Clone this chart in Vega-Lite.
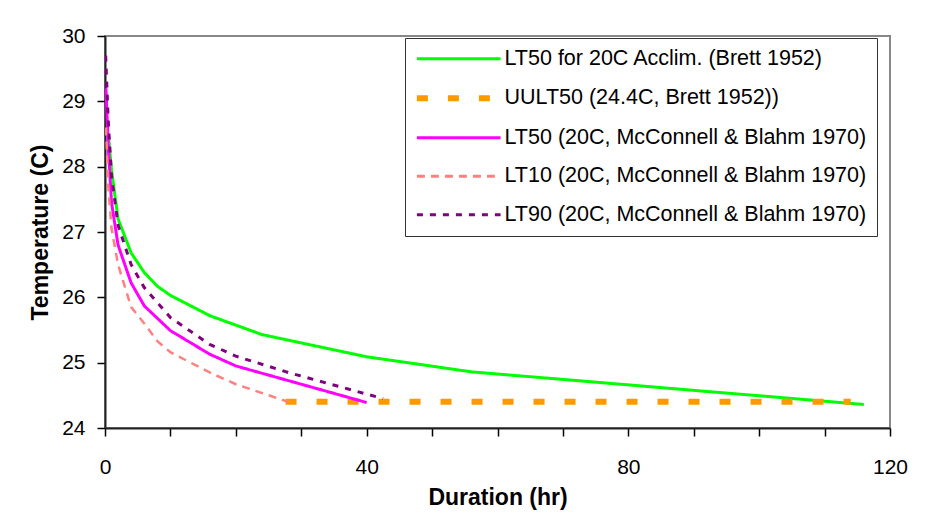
{
  "$schema": "https://vega.github.io/schema/vega-lite/v6.json",
  "width": 785,
  "height": 392,
  "autosize": "none",
  "padding": {"left": 105, "top": 36, "right": 40, "bottom": 101},
  "background": "white",
  "config": {
    "view": {"stroke": "#888888", "strokeWidth": 2},
    "font": "Liberation Sans"
  },
  "data": {
    "values": [
      {"s": "LT50 for 20C Acclim. (Brett 1952)", "d": 0.5, "t": 28.5},
      {"s": "LT50 for 20C Acclim. (Brett 1952)", "d": 1, "t": 27.95},
      {"s": "LT50 for 20C Acclim. (Brett 1952)", "d": 2, "t": 27.2},
      {"s": "LT50 for 20C Acclim. (Brett 1952)", "d": 4, "t": 26.68},
      {"s": "LT50 for 20C Acclim. (Brett 1952)", "d": 6, "t": 26.38},
      {"s": "LT50 for 20C Acclim. (Brett 1952)", "d": 8, "t": 26.17},
      {"s": "LT50 for 20C Acclim. (Brett 1952)", "d": 10, "t": 26.03},
      {"s": "LT50 for 20C Acclim. (Brett 1952)", "d": 16, "t": 25.72},
      {"s": "LT50 for 20C Acclim. (Brett 1952)", "d": 24, "t": 25.43},
      {"s": "LT50 for 20C Acclim. (Brett 1952)", "d": 40, "t": 25.09},
      {"s": "LT50 for 20C Acclim. (Brett 1952)", "d": 56, "t": 24.86},
      {"s": "LT50 for 20C Acclim. (Brett 1952)", "d": 116, "t": 24.36},
      {"s": "UULT50 (24.4C, Brett 1952))", "d": 27.6, "t": 24.4},
      {"s": "UULT50 (24.4C, Brett 1952))", "d": 114, "t": 24.4},
      {"s": "LT50 (20C, McConnell & Blahm 1970)", "d": 0.15, "t": 29.2},
      {"s": "LT50 (20C, McConnell & Blahm 1970)", "d": 0.5, "t": 28.3},
      {"s": "LT50 (20C, McConnell & Blahm 1970)", "d": 1, "t": 27.45},
      {"s": "LT50 (20C, McConnell & Blahm 1970)", "d": 2, "t": 26.8},
      {"s": "LT50 (20C, McConnell & Blahm 1970)", "d": 4, "t": 26.22},
      {"s": "LT50 (20C, McConnell & Blahm 1970)", "d": 6, "t": 25.87},
      {"s": "LT50 (20C, McConnell & Blahm 1970)", "d": 10, "t": 25.49},
      {"s": "LT50 (20C, McConnell & Blahm 1970)", "d": 16, "t": 25.13},
      {"s": "LT50 (20C, McConnell & Blahm 1970)", "d": 20, "t": 24.95},
      {"s": "LT50 (20C, McConnell & Blahm 1970)", "d": 40, "t": 24.39},
      {"s": "LT10 (20C, McConnell & Blahm 1970)", "d": 0.15, "t": 28.6},
      {"s": "LT10 (20C, McConnell & Blahm 1970)", "d": 0.5, "t": 27.7},
      {"s": "LT10 (20C, McConnell & Blahm 1970)", "d": 1, "t": 27.05},
      {"s": "LT10 (20C, McConnell & Blahm 1970)", "d": 2, "t": 26.5},
      {"s": "LT10 (20C, McConnell & Blahm 1970)", "d": 4, "t": 25.85},
      {"s": "LT10 (20C, McConnell & Blahm 1970)", "d": 6, "t": 25.6},
      {"s": "LT10 (20C, McConnell & Blahm 1970)", "d": 8, "t": 25.33},
      {"s": "LT10 (20C, McConnell & Blahm 1970)", "d": 10, "t": 25.16},
      {"s": "LT10 (20C, McConnell & Blahm 1970)", "d": 16, "t": 24.85},
      {"s": "LT10 (20C, McConnell & Blahm 1970)", "d": 20, "t": 24.67},
      {"s": "LT10 (20C, McConnell & Blahm 1970)", "d": 28, "t": 24.4},
      {"s": "LT90 (20C, McConnell & Blahm 1970)", "d": 0.1, "t": 29.7},
      {"s": "LT90 (20C, McConnell & Blahm 1970)", "d": 0.5, "t": 28.7},
      {"s": "LT90 (20C, McConnell & Blahm 1970)", "d": 1, "t": 27.85},
      {"s": "LT90 (20C, McConnell & Blahm 1970)", "d": 2, "t": 27.1},
      {"s": "LT90 (20C, McConnell & Blahm 1970)", "d": 4, "t": 26.5},
      {"s": "LT90 (20C, McConnell & Blahm 1970)", "d": 6, "t": 26.15},
      {"s": "LT90 (20C, McConnell & Blahm 1970)", "d": 10, "t": 25.69},
      {"s": "LT90 (20C, McConnell & Blahm 1970)", "d": 16, "t": 25.28},
      {"s": "LT90 (20C, McConnell & Blahm 1970)", "d": 20, "t": 25.1},
      {"s": "LT90 (20C, McConnell & Blahm 1970)", "d": 28, "t": 24.85},
      {"s": "LT90 (20C, McConnell & Blahm 1970)", "d": 42.5, "t": 24.45}
    ]
  },
  "mark": {"type": "line", "clip": true, "strokeCap": "butt"},
  "encoding": {
    "x": {
      "field": "d", "type": "quantitative",
      "scale": {"domain": [0, 120], "nice": false},
      "axis": {
        "orient": "bottom",
        "values": [0, 10, 20, 30, 40, 50, 60, 70, 80, 90, 100, 110, 120],
        "labelExpr": "datum.value % 40 == 0 ? datum.label : ''",
        "labelFlush": false,
        "grid": false,
        "tickSize": 8, "tickColor": "black", "tickWidth": 1.5,
        "domainColor": "#222222", "domainWidth": 2,
        "labelFont": "Liberation Sans", "labelFontSize": 21, "labelColor": "black", "labelPadding": 20,
        "title": "Duration (hr)",
        "titleFont": "Liberation Sans", "titleFontSize": 23, "titleFontWeight": "bold", "titleColor": "black", "titlePadding": 9,
        "encode": {"ticks": {"update": {"y": {"value": -8}}}}
      }
    },
    "y": {
      "field": "t", "type": "quantitative",
      "scale": {"domain": [24, 30], "nice": false, "zero": false},
      "axis": {
        "orient": "left",
        "values": [24, 25, 26, 27, 28, 29, 30],
        "labelFlush": false,
        "grid": false,
        "tickSize": 8, "tickColor": "black", "tickWidth": 1.5,
        "domainColor": "#222222", "domainWidth": 2,
        "labelFont": "Liberation Sans", "labelFontSize": 21, "labelColor": "black", "labelPadding": 12,
        "title": "Temperature (C)",
        "titleFont": "Liberation Sans", "titleFontSize": 23, "titleFontWeight": "bold", "titleColor": "black", "titlePadding": 9,
        "encode": {"ticks": {"update": {"x": {"value": 8}}}}
      }
    },
    "color": {
      "field": "s", "type": "nominal",
      "scale": {
        "domain": ["LT50 for 20C Acclim. (Brett 1952)", "UULT50 (24.4C, Brett 1952))", "LT50 (20C, McConnell & Blahm 1970)", "LT10 (20C, McConnell & Blahm 1970)", "LT90 (20C, McConnell & Blahm 1970)"],
        "range": ["#00FF00", "#FF9900", "#FF00FF", "#FF8080", "#800080"]
      },
      "legend": {
        "title": null,
        "orient": "none",
        "legendX": 300,
        "legendY": 2,
        "symbolType": "M-5,0H5",
        "symbolSize": 280,
        "symbolOffset": 33,
        "labelOffset": 35,
        "labelFont": "Liberation Sans",
        "labelFontSize": 21.5,
        "labelColor": "black",
        "labelLimit": 500,
        "rowPadding": 15.5,
        "padding": 10,
        "strokeColor": "#333333",
        "fillColor": "white",
        "cornerRadius": 0,
        "encode": {
          "symbols": {
            "update": {
              "strokeWidth": {"signal": "datum.value == 'UULT50 (24.4C, Brett 1952))' ? 6 : 3"}
            }
          }
        }
      }
    },
    "strokeDash": {
      "field": "s", "type": "nominal",
      "scale": {
        "domain": ["LT50 for 20C Acclim. (Brett 1952)", "UULT50 (24.4C, Brett 1952))", "LT50 (20C, McConnell & Blahm 1970)", "LT10 (20C, McConnell & Blahm 1970)", "LT90 (20C, McConnell & Blahm 1970)"],
        "range": [[1, 0], [11, 20], [1, 0], [8, 6], [6, 7]]
      }
    },
    "strokeWidth": {
      "condition": [
        {"test": "datum.s == 'UULT50 (24.4C, Brett 1952))'", "value": 6},
        {"test": "datum.s == 'LT10 (20C, McConnell & Blahm 1970)'", "value": 2.5}
      ],
      "value": 3
    }
  }
}
